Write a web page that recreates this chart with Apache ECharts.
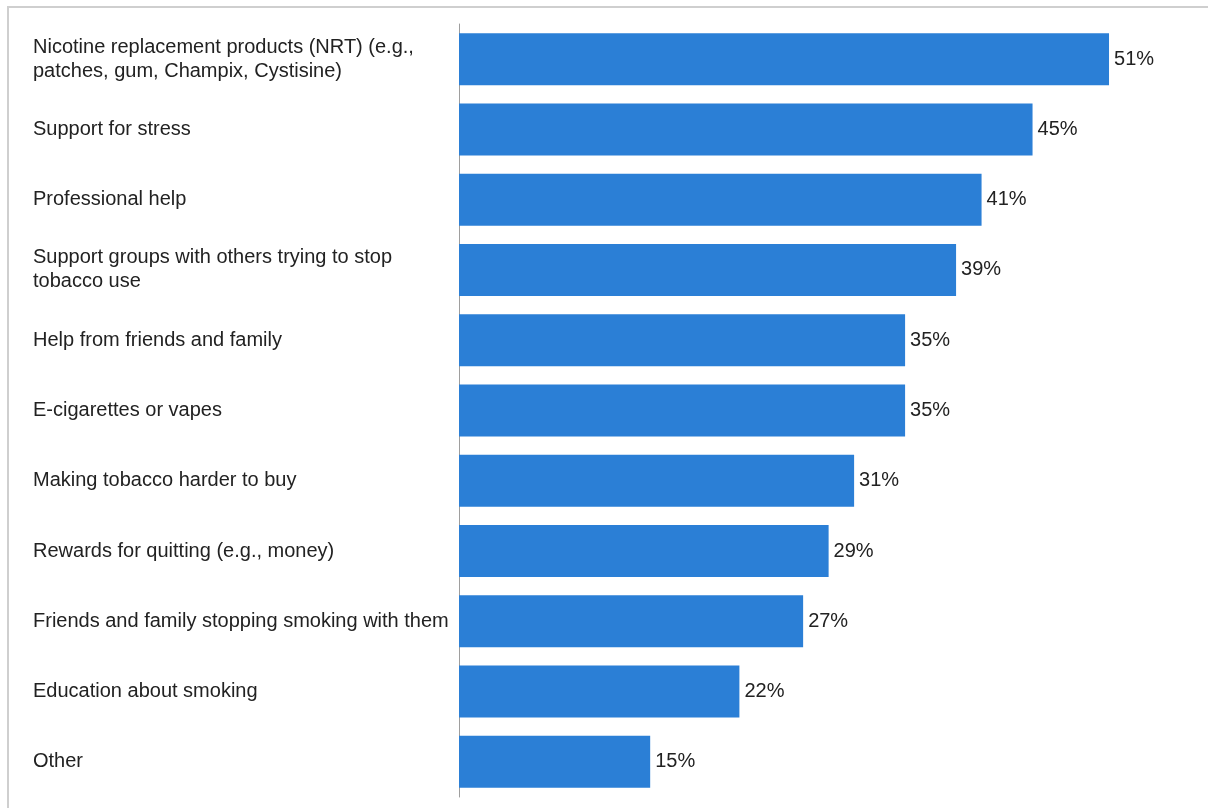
<!DOCTYPE html>
<html>
<head>
<meta charset="utf-8">
<script src="https://cdn.jsdelivr.net/npm/echarts@6/dist/echarts.min.js"></script>
<style>
  html, body { margin: 0; padding: 0; background: #ffffff; }
  #chart { width: 1208px; height: 808px; }
</style>
</head>
<body>
<div id="chart"></div>
<script>
// Support options, listed top to bottom
const categories = [
  'Nicotine replacement products (NRT) (e.g.,\npatches, gum, Champix, Cystisine)',
  'Support for stress',
  'Professional help',
  'Support groups with others trying to stop\ntobacco use',
  'Help from friends and family',
  'E-cigarettes or vapes',
  'Making tobacco harder to buy',
  'Rewards for quitting (e.g., money)',
  'Friends and family stopping smoking with them',
  'Education about smoking',
  'Other'
];

// Share of respondents (%)
const values = [51, 45, 41, 39, 35, 35, 31, 29, 27, 22, 15];

const chart = echarts.init(document.getElementById('chart'), null, { renderer: 'canvas' });

const fontFamily = '"Liberation Sans", Arial, sans-serif';

chart.setOption({
  animation: false,
  backgroundColor: '#ffffff',
  graphic: [{
    type: 'rect',
    shape: { x: 8, y: 7, width: 1260, height: 860 },
    style: { fill: 'none', stroke: '#cfcfcf', lineWidth: 2 },
    silent: true
  }],
  grid: { left: 459, right: 48, top: 24, bottom: 11, containLabel: false },
  xAxis: {
    type: 'value',
    min: 0,
    max: 55,
    show: false
  },
  yAxis: {
    type: 'category',
    inverse: true,
    data: categories,
    axisLine: { show: true, lineStyle: { color: '#9e9e9e', width: 1 } },
    axisTick: { show: false },
    axisLabel: {
      align: 'left',
      margin: 426,
      color: '#222222',
      fontSize: 20,
      lineHeight: 24,
      fontFamily: fontFamily
    }
  },
  series: [{
    type: 'bar',
    data: values,
    barWidth: 52,
    itemStyle: { color: '#2b7fd6' },
    label: {
      show: true,
      position: 'right',
      distance: 5,
      formatter: '{c}%',
      color: '#222222',
      fontSize: 20,
      fontFamily: fontFamily
    }
  }]
});
</script>
</body>
</html>
